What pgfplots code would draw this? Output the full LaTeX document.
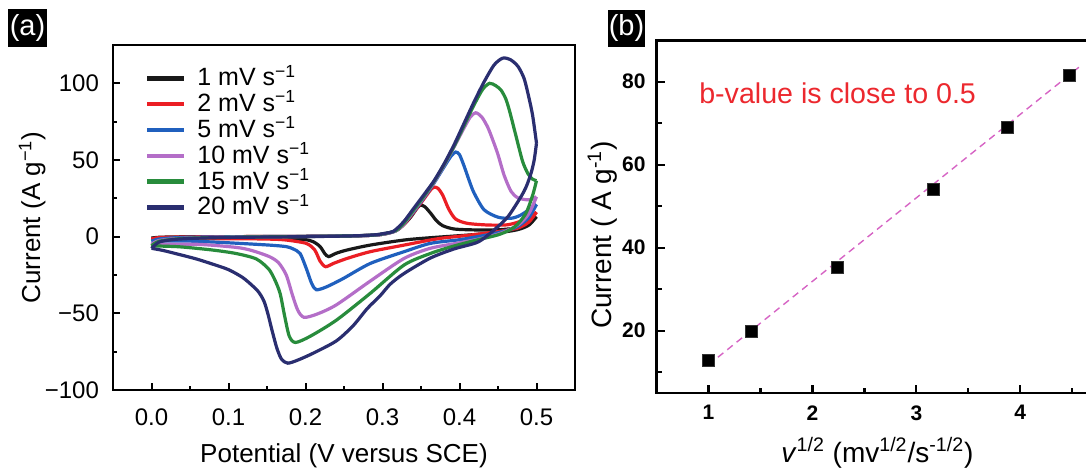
\documentclass[border=0pt]{standalone}
\usepackage{fontspec}
\setmainfont{Liberation Sans}
\usepackage{pgfplots}
\pgfplotsset{compat=1.18}

\definecolor{cvblack}{RGB}{25,25,25}
\definecolor{cvred}{RGB}{235,30,36}
\definecolor{cvblue}{RGB}{32,96,190}
\definecolor{cvpurple}{RGB}{180,110,200}
\definecolor{cvgreen}{RGB}{40,140,60}
\definecolor{cvnavy}{RGB}{42,46,112}
\definecolor{fitpink}{RGB}{214,100,196}
\definecolor{txtred}{RGB}{236,40,46}

\newcommand{\fs}[1]{\fontsize{#1}{#1}\selectfont}

\begin{document}
\begin{tikzpicture}
\useasboundingbox (0,0) rectangle (543pt,235pt);
\clip (0,0) rectangle (543pt,235pt);

% panel labels
\fill[black] (4.15pt,211.65pt) rectangle (23.35pt,230.35pt);
\node[text=white, font=\fs{14.5}, inner sep=0pt] at (13.75pt,221pt) {(a)};
\fill[black] (304pt,211.65pt) rectangle (322.5pt,230pt);
\node[text=white, font=\fs{14.5}, inner sep=0pt] at (313.25pt,220.8pt) {(b)};

% ---------------- (a) CV curves
\begin{axis}[
  at={(56.5pt,40pt)}, anchor=south west,
  scale only axis, width=231pt, height=172.5pt,
  xmin=-0.05, xmax=0.55, ymin=-100, ymax=125,
  axis line style={line width=1.2pt},
  tick pos=left, tick align=inside,
  xtick={0,0.1,0.2,0.3,0.4,0.5}, xticklabels={0.0,0.1,0.2,0.3,0.4,0.5},
  minor xtick={0.05,0.15,0.25,0.35,0.45},
  ytick={-100,-50,0,50,100}, yticklabels={−100,−50,0,50,100},
  minor ytick={-75,-25,25,75},
  major tick length=3.5pt, minor tick length=2pt,
  every tick/.append style={line width=1pt, black},
  tick label style={font=\fs{12}},
  xticklabel style={yshift=-6pt}, yticklabel style={xshift=-3.5pt},
  xlabel={Potential (V versus SCE)},
  xlabel style={font=\fs{13}, at={(axis description cs:0.5,-0.2116)}, anchor=base},
  ylabel={Current (A g\textsuperscript{−1})},
  ylabel style={font=\fs{13}, at={(axis description cs:-0.158,0.5)}, anchor=base},
  legend cell align=left,
  legend style={at={(axis description cs:0.0693,0.925)}, anchor=north west,
    draw=none, fill=none, inner sep=0pt, outer sep=0pt, row sep=5.4pt,
    font=\fs{12.5}, nodes={inner sep=0pt, text height=7.5pt, text depth=0pt},
    /tikz/every odd column/.append style={column sep=5.65pt}},
  legend image code/.code={\draw[#1, line width=2.2pt] (0pt,0pt) -- (18.35pt,0pt);},
  cv/.style={line width=1.6pt, smooth, tension=0.45},
]
% 1 mV/s
\addplot[cvblack, cv] coordinates {(0,-1) (0.01,-0.4) (0.04,-0.1) (0.1,0) (0.2,0.2) (0.26,0.5) (0.29,1) (0.305,2) (0.318,4) (0.328,8) (0.337,13) (0.344,18) (0.349,20.6) (0.355,19.5) (0.3625,15.3) (0.37,10.5) (0.378,7.2) (0.393,5) (0.42,4.4) (0.45,4.5) (0.471,5.5) (0.485,8) (0.5,13)};
\addlegendentry{1 mV s\textsuperscript{−1}}
\addplot[cvblack, cv, forget plot] coordinates {(0.5,13) (0.49,7.5) (0.475,4.5) (0.45,2.6) (0.41,1) (0.362,-0.7) (0.328,-2.2) (0.284,-5.5) (0.254,-8.7) (0.24,-10.8) (0.23,-13) (0.225,-11) (0.219,-6.5) (0.21,-3.3) (0.197,-1.8) (0.153,-1) (0.08,-0.8) (0,-1)};
% 2 mV/s
\addplot[cvred, cv] coordinates {(0,-1.5) (0.01,-0.6) (0.04,-0.2) (0.1,0) (0.2,0.2) (0.26,0.5) (0.29,1) (0.305,2) (0.318,4) (0.328,8) (0.34,15.5) (0.35,22) (0.358,27.5) (0.363,30.8) (0.367,32.3) (0.372,31.5) (0.378,27.3) (0.386,18) (0.395,11.5) (0.41,8.7) (0.437,7.6) (0.463,7.8) (0.484,10.9) (0.5,16)};
\addlegendentry{2 mV s\textsuperscript{−1}}
\addplot[cvred, cv, forget plot] coordinates {(0.5,16) (0.49,9.5) (0.475,5.5) (0.445,3) (0.41,0.8) (0.38,-0.8) (0.362,-2.2) (0.328,-5.5) (0.284,-9.8) (0.254,-14.2) (0.236,-17.5) (0.226,-19.6) (0.219,-16) (0.212,-8.7) (0.201,-4.4) (0.175,-2.2) (0.153,-1.6) (0.1,-1.3) (0,-1.5)};
% 5 mV/s
\addplot[cvblue, cv] coordinates {(0,-3) (0.01,-1.5) (0.04,-0.5) (0.1,-0.1) (0.2,0.2) (0.26,0.5) (0.29,1) (0.305,2) (0.318,4) (0.328,8.5) (0.34,16) (0.354,25.5) (0.367,35) (0.38,45.5) (0.389,52.5) (0.395,55.2) (0.4,53.5) (0.406,46) (0.413,36) (0.419,28.4) (0.432,17.5) (0.45,12.7) (0.467,12) (0.48,14.2) (0.5,21)};
\addlegendentry{5 mV s\textsuperscript{−1}}
\addplot[cvblue, cv, forget plot] coordinates {(0.5,21) (0.49,12.5) (0.475,6.5) (0.455,3.2) (0.43,0.6) (0.4,-2) (0.362,-4.4) (0.328,-9.8) (0.284,-17.5) (0.249,-27.3) (0.227,-32.8) (0.214,-34.6) (0.208,-30.5) (0.201,-20.7) (0.193,-11) (0.184,-8) (0.175,-6.5) (0.153,-5.5) (0.1,-4) (0.05,-2.9) (0,-3)};
% 10 mV/s
\addplot[cvpurple, cv] coordinates {(0,-5) (0.01,-2.5) (0.04,-1) (0.1,-0.3) (0.2,0.1) (0.26,0.5) (0.29,1) (0.305,2) (0.318,4) (0.328,8.5) (0.34,16.5) (0.354,26) (0.367,35.5) (0.38,46.5) (0.393,58.5) (0.406,71) (0.414,78) (0.421,80.8) (0.429,78) (0.437,71) (0.444,62) (0.45,53.5) (0.458,40) (0.467,29.5) (0.476,25.3) (0.49,24) (0.5,26)};
\addlegendentry{10 mV s\textsuperscript{−1}}
\addplot[cvpurple, cv, forget plot] coordinates {(0.5,26) (0.49,15) (0.477,8) (0.455,2.5) (0.43,-1) (0.4,-4) (0.362,-7.6) (0.328,-14.2) (0.284,-29) (0.24,-44.5) (0.215,-50.5) (0.198,-52.6) (0.19,-48) (0.183,-38) (0.175,-25) (0.165,-17) (0.153,-13) (0.13,-9) (0.11,-7) (0.06,-5) (0,-5)};
% 15 mV/s
\addplot[cvgreen, cv] coordinates {(0,-6) (0.01,-3) (0.04,-1.2) (0.1,-0.4) (0.2,0.1) (0.26,0.5) (0.29,1.1) (0.305,2.2) (0.318,4.2) (0.328,9) (0.34,17) (0.354,26.5) (0.367,36) (0.38,47) (0.393,59) (0.406,72.5) (0.419,86) (0.43,96) (0.439,100) (0.447,98.5) (0.454,95.5) (0.46,90) (0.465,82) (0.474,64.4) (0.482,49) (0.489,41) (0.495,37.5) (0.5,36.5)};
\addlegendentry{15 mV s\textsuperscript{−1}}
\addplot[cvgreen, cv, forget plot] coordinates {(0.5,36.5) (0.495,27) (0.486,15) (0.472,6.5) (0.452,1.5) (0.42,-2.5) (0.39,-6.5) (0.362,-11) (0.328,-18.5) (0.284,-37) (0.24,-54.5) (0.206,-65) (0.187,-69) (0.179,-65) (0.173,-52) (0.167,-37) (0.16,-28) (0.152,-21) (0.136,-14.5) (0.11,-11) (0.079,-8.7) (0.036,-6.6) (0,-6)};
% 20 mV/s
\addplot[cvnavy, cv] coordinates {(0,-7.6) (0.01,-3.5) (0.03,-1.8) (0.06,-1) (0.1,-0.5) (0.2,0) (0.26,0.5) (0.29,1.2) (0.303,2.2) (0.3145,3.6) (0.3276,9.8) (0.3407,18.6) (0.354,27.5) (0.367,36.5) (0.38,47.5) (0.393,60) (0.406,74) (0.419,88) (0.432,101) (0.445,112) (0.456,116.4) (0.466,115.5) (0.476,111) (0.484,103) (0.49,91) (0.495,79) (0.5,61)};
\addlegendentry{20 mV s\textsuperscript{−1}}
\addplot[cvnavy, cv, forget plot] coordinates {(0.5,61) (0.497,50) (0.493,41.5) (0.487,33) (0.48,26.2) (0.463,13.1) (0.445,4.4) (0.424,-3.5) (0.393,-8) (0.362,-14) (0.328,-24) (0.31,-31) (0.297,-38.5) (0.28,-47) (0.262,-58) (0.24,-68) (0.21,-76) (0.19,-80.5) (0.177,-82.5) (0.169,-80) (0.163,-73) (0.157,-62) (0.151,-50) (0.146,-42) (0.139,-36) (0.13,-31.5) (0.118,-26.5) (0.1,-21.5) (0.08,-18) (0.058,-14.5) (0.035,-11.5) (0.015,-9) (0,-7.6)};
\end{axis}

% ---------------- (b) peak current vs sqrt(scan rate)
\begin{axis}[
  at={(328.3pt,38.5pt)}, anchor=south west,
  scale only axis, width=220.8pt, height=176.4pt,
  xmin=0.5, xmax=4.75, ymin=5, ymax=90,
  axis line style={line width=1.3pt},
  tick pos=left, tick align=inside,
  xtick={1,2,3,4}, xticklabels={1,2,3,4},
  minor xtick={1.5,2.5,3.5,4.5},
  ytick={20,40,60,80}, yticklabels={20,40,60,80},
  minor ytick={10,30,50,70},
  major tick length=4pt, minor tick length=2.5pt,
  every tick/.append style={line width=1.1pt, black},
  tick label style={font=\fs{10.5}\bfseries},
  xticklabel style={yshift=-2.7pt}, yticklabel style={xshift=-2pt},
  xlabel={\textit{v}\textsuperscript{1/2} (mv\textsuperscript{1/2}/s\textsuperscript{-1/2})},
  xlabel style={font=\fs{14}, at={(axis description cs:0.5,-0.1956)}, anchor=base},
  ylabel={Current ( A g\textsuperscript{-1})},
  ylabel style={font=\fs{14}, at={(axis description cs:-0.102,0.448)}, anchor=base},
]
\addplot[fitpink, line width=0.7pt, dash pattern=on 3.5pt off 2.5pt] coordinates {(1,11.8) (4.57,83.6)};
\addplot[only marks, mark=square*, mark size=3pt, mark options={fill=black, draw=black!80}] coordinates {(1,12.9) (1.414,19.9) (2.236,35.2) (3.162,54.1) (3.873,68.9) (4.472,81.6)};
\node[anchor=base west, text=txtred, font=\fs{14.3}, inner sep=0pt] at (axis cs:0.907,74.8) {b-value is close to 0.5};
\end{axis}
\end{tikzpicture}
\end{document}
